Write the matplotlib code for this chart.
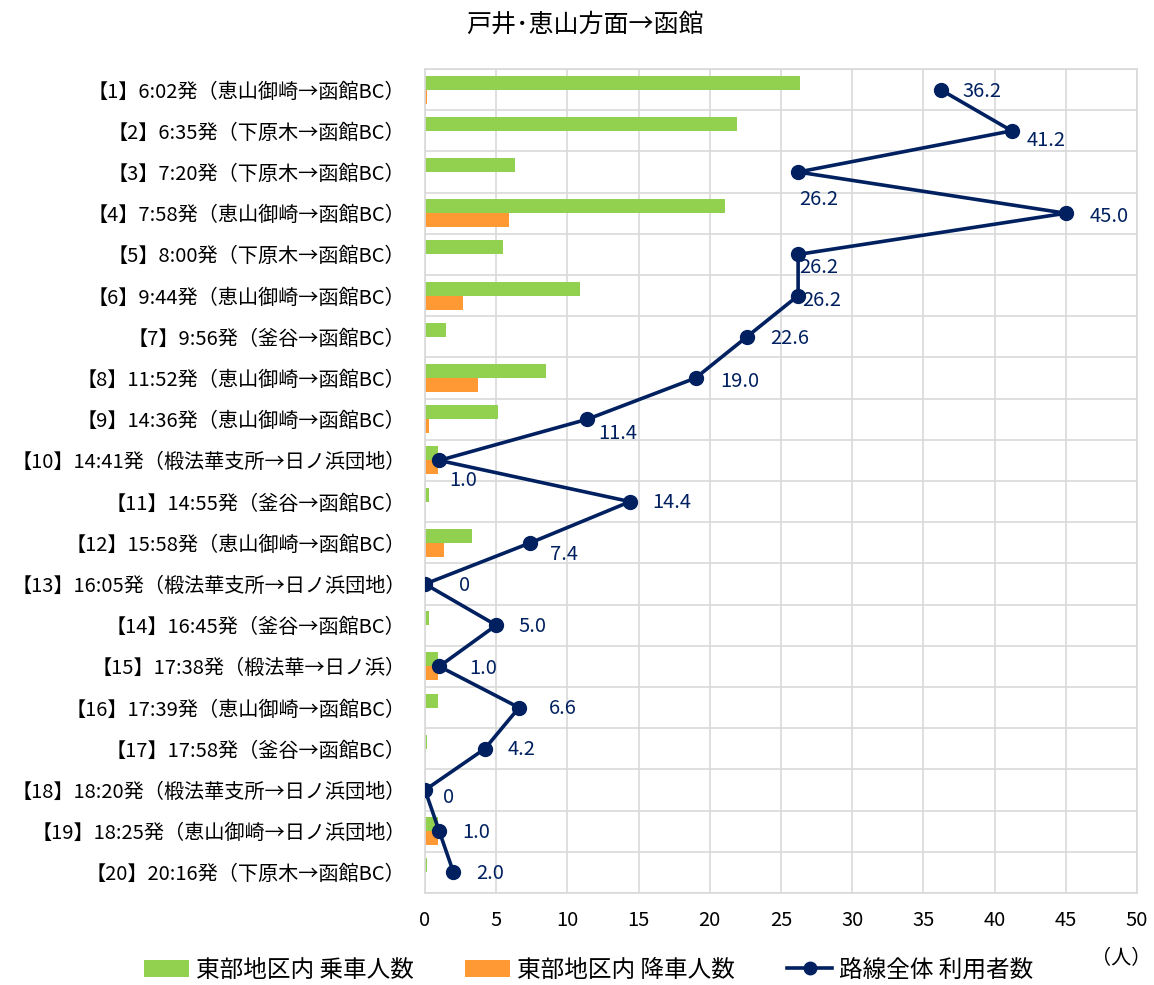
import numpy as np
import matplotlib
matplotlib.use("Agg")
import matplotlib.pyplot as plt
from matplotlib.lines import Line2D
from matplotlib.patches import Patch

plt.rcParams["font.family"] = ["Noto Sans CJK JP", "DejaVu Sans"]

# ---------------------------------------------------------------------------
# data
# ---------------------------------------------------------------------------
TRIPS = [
    "【1】6:02発（恵山御崎→函館BC）",
    "【2】6:35発（下原木→函館BC）",
    "【3】7:20発（下原木→函館BC）",
    "【4】7:58発（恵山御崎→函館BC）",
    "【5】8:00発（下原木→函館BC）",
    "【6】9:44発（恵山御崎→函館BC）",
    "【7】9:56発（釜谷→函館BC）",
    "【8】11:52発（恵山御崎→函館BC）",
    "【9】14:36発（恵山御崎→函館BC）",
    "【10】14:41発（椴法華支所→日ノ浜団地）",
    "【11】14:55発（釜谷→函館BC）",
    "【12】15:58発（恵山御崎→函館BC）",
    "【13】16:05発（椴法華支所→日ノ浜団地）",
    "【14】16:45発（釜谷→函館BC）",
    "【15】17:38発（椴法華→日ノ浜）",
    "【16】17:39発（恵山御崎→函館BC）",
    "【17】17:58発（釜谷→函館BC）",
    "【18】18:20発（椴法華支所→日ノ浜団地）",
    "【19】18:25発（恵山御崎→日ノ浜団地）",
    "【20】20:16発（下原木→函館BC）",
]

# 東部地区内 乗車人数
boarding = [26.3, 21.9, 6.3, 21.1, 5.5, 10.9, 1.5, 8.5, 5.1, 0.9,
            0.3, 3.3, 0.0, 0.3, 0.9, 0.9, 0.15, 0.0, 0.9, 0.15]
# 東部地区内 降車人数
alighting = [0.15, 0.0, 0.0, 5.9, 0.0, 2.7, 0.0, 3.7, 0.3, 0.9,
             0.0, 1.35, 0.0, 0.0, 0.9, 0.0, 0.0, 0.0, 0.9, 0.0]
# 路線全体 利用者数 (data labels)
riders = [36.2, 41.2, 26.2, 45.0, 26.2, 26.2, 22.6, 19.0, 11.4, 1.0,
          14.4, 7.4, 0, 5.0, 1.0, 6.6, 4.2, 0, 1.0, 2.0]

# label nudges in pixels (dx, dy-down), as placed in the original
LABEL_NUDGE = [(21, 2), (14, 10), (0, 27), (22, 3), (0, 13), (3, 5), (22, 2),
               (23, 3), (10, 14), (9, 20), (21, 1), (18, 12), (33, 1), (21, 1),
               (29, 2), (28, 1), (21, 1), (17, 7), (22, 1), (21, 1)]

GREEN = "#92D050"
ORANGE = "#FF9933"
NAVY = "#002060"

# ---------------------------------------------------------------------------
# plot
# ---------------------------------------------------------------------------
fig = plt.figure(figsize=(11.54, 9.85), dpi=100)
ax = fig.add_axes([0.3683, 0.0934, 0.6170, 0.8365])

y = np.arange(len(TRIPS))
bar_h = 0.34
ax.barh(y - bar_h / 2, boarding, height=bar_h, color=GREEN, zorder=2)
ax.barh(y + bar_h / 2, alighting, height=bar_h, color=ORANGE, zorder=2)
ax.plot(riders, y, color=NAVY, linewidth=2.6, marker="o", markersize=10,
        zorder=4)

for v, yy, (dx, dy) in zip(riders, y, LABEL_NUDGE):
    txt = "0" if v == 0 else f"{v:.1f}"
    ax.annotate(txt, xy=(v, yy), xytext=(dx * 0.72 + 1, -dy * 0.72),
                textcoords="offset points", ha="left", va="center",
                fontsize=14.5, color=NAVY, zorder=5)

ax.set_xlim(0, 50)
ax.set_ylim(len(TRIPS) - 0.5, -0.5)
ax.set_xticks(np.arange(0, 51, 5))
ax.set_yticks(y)
ax.set_yticklabels(TRIPS)
ax.set_yticks(np.arange(len(TRIPS) + 1) - 0.5, minor=True)
ax.tick_params(axis="y", which="both", length=0, labelsize=14.5, pad=14)
ax.tick_params(axis="x", length=0, labelsize=14.5, pad=12)
ax.grid(axis="x", color="#D9D9D9", linewidth=1.2, zorder=0)
ax.grid(axis="y", which="minor", color="#D9D9D9", linewidth=1.2, zorder=0)
for side in ["top", "right", "bottom", "left"]:
    ax.spines[side].set_color("#D9D9D9")
    ax.spines[side].set_linewidth(1.2)
ax.set_axisbelow(True)

fig.text(0.507, 0.975, "戸井･恵山方面→函館", ha="center", va="center",
         fontsize=18)
fig.text(0.998, 0.027, "（人）", ha="right", va="center", fontsize=14.5)

handles = [
    Patch(facecolor=GREEN, label="東部地区内 乗車人数"),
    Patch(facecolor=ORANGE, label="東部地区内 降車人数"),
    Line2D([0], [0], color=NAVY, linewidth=2.6, marker="o", markersize=9,
           label="路線全体 利用者数"),
]
fig.legend(handles=handles, loc="center", bbox_to_anchor=(0.51, 0.015),
           ncol=3, frameon=False, fontsize=17, handlelength=1.9,
           handleheight=0.7, columnspacing=2.2, handletextpad=0.3)

fig.savefig("out.png", dpi=100)
